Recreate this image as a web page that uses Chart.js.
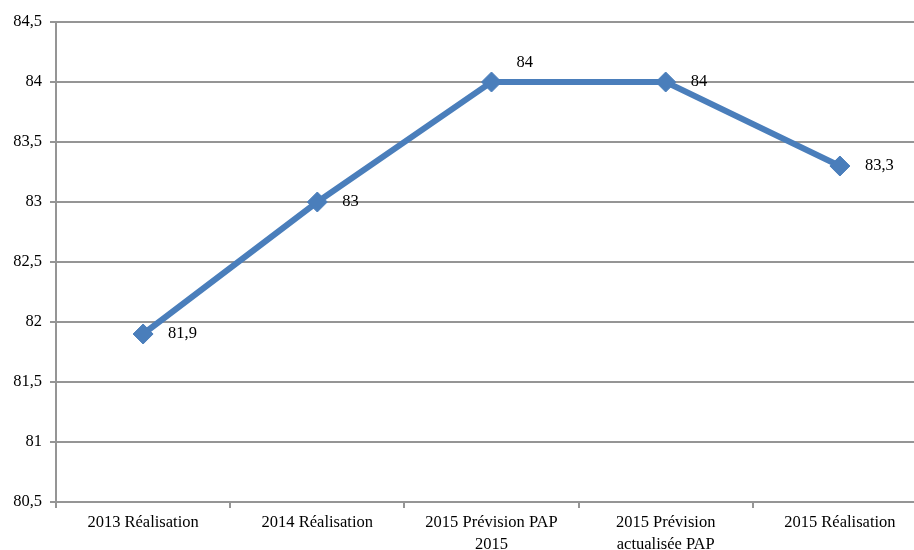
<!DOCTYPE html>
<html>
<head>
<meta charset="utf-8">
<script src="https://cdn.jsdelivr.net/npm/chart.js@4"></script>
<style>
  html, body { margin: 0; padding: 0; background: #fff; overflow: hidden; }
  #wrap { width: 938px; height: 550px; }
</style>
</head>
<body>
<div id="wrap"><canvas id="myChart" width="938" height="550"></canvas></div>
<script>
const categories = [
    '2013 Réalisation',
    '2014 Réalisation',
    ['2015 Prévision PAP', '2015'],
    ['2015 Prévision', 'actualisée PAP'],
    '2015 Réalisation'
];
const values = [81.9, 83, 84, 84, 83.3];
const valueLabels = ['81,9', '83', '84', '84', '83,3'];
const yTicks = [80.5, 81, 81.5, 82, 82.5, 83, 83.5, 84, 84.5];

const FONT = '"Liberation Serif", "DejaVu Serif", serif';
const GRID = '#959595';
const BLUE = '#4a7ebb';

// value labels drawn beside each point
const pointLabels = {
    id: 'pointLabels',
    afterDatasetsDraw(chart) {
        const ctx = chart.ctx;
        const meta = chart.getDatasetMeta(0);
        ctx.save();
        ctx.font = '16.5px ' + FONT;
        ctx.fillStyle = '#000';
        ctx.textAlign = 'left';
        ctx.textBaseline = 'middle';
        meta.data.forEach((pt, i) => {
            // the peak label sits above, the rest to the right
            const dy = i === 2 ? -19 : 0;
            ctx.fillText(valueLabels[i], pt.x + 25, pt.y + dy);
        });
        ctx.restore();
    }
};

const chartContext = document.getElementById('myChart').getContext('2d');
const myChart = new Chart(chartContext, {
    type: 'line',
    data: {
        labels: categories,
        datasets: [{
            data: values,
            borderColor: BLUE,
            backgroundColor: BLUE,
            borderWidth: 6,
            pointStyle: 'rectRot',
            pointRadius: 10,
            pointBorderWidth: 1,
            tension: 0
        }]
    },
    options: {
        responsive: false,
        animation: false,
        layout: { padding: { top: 22, right: 4, left: 0, bottom: 0 } },
        plugins: {
            legend: { display: false },
            tooltip: { enabled: false }
        },
        scales: {
            x: {
                offset: true,
                grid: {
                    offset: true,
                    drawOnChartArea: false,
                    color: GRID,
                    lineWidth: 2,
                    tickLength: 6
                },
                border: { color: GRID, width: 2 },
                ticks: {
                    color: '#000',
                    font: { family: FONT, size: 16.5, lineHeight: 1.3 },
                    maxRotation: 0,
                    autoSkip: false,
                    padding: 4
                },
                afterFit(scale) { scale.height = 48; }
            },
            y: {
                min: 80.5,
                max: 84.5,
                afterBuildTicks(scale) {
                    scale.ticks = yTicks.map(v => ({ value: v }));
                },
                grid: {
                    color: GRID,
                    lineWidth: 2,
                    tickLength: 6
                },
                border: { color: GRID, width: 2 },
                ticks: {
                    color: '#000',
                    font: { family: FONT, size: 16.5 },
                    padding: 8,
                    callback: v => String(v).replace('.', ',')
                },
                afterFit(scale) { scale.width = 56; }
            }
        }
    },
    plugins: [pointLabels]
});
</script>
</body>
</html>
